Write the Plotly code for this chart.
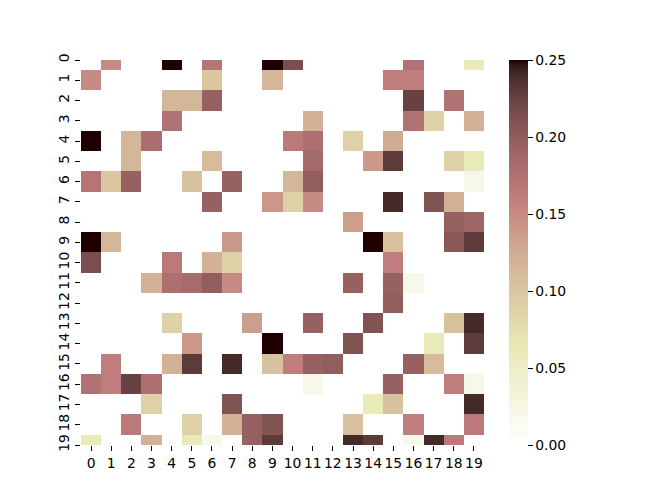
import numpy as np
import plotly.graph_objects as go

# heatmap values (20 x 20, zeros are blank cells)
row_labels = [str(i) for i in range(20)]
col_labels = [str(i) for i in range(20)]
cbar_ticks = [0, 0.05, 0.10, 0.15, 0.20, 0.25]

values = [
    [0, .15, 0, 0, .25, 0, .17, 0, 0, .25, .215, 0, 0, 0, 0, 0, .175, 0, 0, .06],
    [.15, 0, 0, 0, 0, 0, .10, 0, 0, .115, 0, 0, 0, 0, 0, .16, .16, 0, 0, 0],
    [0, 0, 0, 0, .115, .115, .195, 0, 0, 0, 0, 0, 0, 0, 0, 0, .225, 0, .175, 0],
    [0, 0, 0, 0, .175, 0, 0, 0, 0, 0, 0, .12, 0, 0, 0, 0, .175, .09, 0, .12],
    [.25, 0, .115, .18, 0, 0, 0, 0, 0, 0, .165, .178, 0, .09, 0, .125, 0, 0, 0, 0],
    [0, 0, .115, 0, 0, 0, .11, 0, 0, 0, 0, .185, 0, 0, .14, .23, 0, 0, .09, .06],
    [.17, .10, .195, 0, 0, .105, 0, .195, 0, 0, .115, .20, 0, 0, 0, 0, 0, 0, 0, .02],
    [0, 0, 0, 0, 0, 0, .195, 0, 0, .14, .09, .15, 0, 0, 0, .24, 0, .21, .12, 0],
    [0, 0, 0, 0, 0, 0, 0, 0, 0, 0, 0, 0, 0, .135, 0, 0, 0, 0, .195, .19],
    [.25, .115, 0, 0, 0, 0, 0, .14, 0, 0, 0, 0, 0, 0, .25, .105, 0, 0, .205, .23],
    [.215, 0, 0, 0, .165, 0, .12, .09, 0, 0, 0, 0, 0, 0, 0, .16, 0, 0, 0, 0],
    [0, 0, 0, .12, .178, .183, .20, .15, 0, 0, 0, 0, 0, .195, 0, .195, .02, 0, 0, 0],
    [0, 0, 0, 0, 0, 0, 0, 0, 0, 0, 0, 0, 0, 0, 0, .20, 0, 0, 0, 0],
    [0, 0, 0, 0, .09, 0, 0, 0, .135, 0, 0, .195, 0, 0, .21, 0, 0, 0, .105, .24],
    [0, 0, 0, 0, 0, .14, 0, 0, 0, .25, 0, 0, 0, .21, 0, 0, 0, .06, 0, .23],
    [0, .16, 0, 0, .12, .23, 0, .24, 0, .105, .16, .195, .20, 0, 0, 0, .195, .11, 0, 0],
    [.175, .16, .225, .178, 0, 0, 0, 0, 0, 0, 0, .02, 0, 0, 0, .195, 0, 0, .16, .02],
    [0, 0, 0, .09, 0, 0, 0, .21, 0, 0, 0, 0, 0, 0, .06, .105, 0, 0, 0, .24],
    [0, 0, .165, 0, 0, .09, 0, .12, .195, .21, 0, 0, 0, .105, 0, 0, .16, 0, 0, .165],
    [.06, 0, 0, .12, 0, .06, .02, 0, .195, .23, 0, 0, 0, .24, .23, 0, .02, .24, .165, 0],
]


def pink_r_scale(n=65):
    """matplotlib's pink_r: sqrt((2*gray + hot)/3), reversed"""
    out = []
    for t in np.linspace(0, 1, n):
        x = 1 - t
        hr = np.interp(x, [0, 0.365079, 1], [0.0416, 1, 1])
        hg = np.interp(x, [0, 0.365079, 0.746032, 1], [0, 0, 1, 1])
        hb = np.interp(x, [0, 0.746032, 1], [0, 0, 1])
        rgb = [np.sqrt((2 * x + h) / 3) for h in (hr, hg, hb)]
        out.append([float(t), "rgb({},{},{})".format(*[int(round(255 * c)) for c in rgb])])
    return out


font = dict(family="DejaVu Sans", size=13.9, color="black")

fig = go.Figure(go.Heatmap(
    z=values, x=list(range(20)), y=list(range(20)),
    zmin=0, zmax=0.25, colorscale=pink_r_scale(),
    colorbar=dict(
        x=(509 - 81) / 403, xanchor="left", y=0.5, yanchor="middle",
        len=1, lenmode="fraction", thickness=19, outlinewidth=0,
        xpad=0, ypad=0,
        ticks="outside", ticklen=5, tickwidth=1, tickcolor="black",
        tickvals=cbar_ticks, ticktext=["%.2f" % v for v in cbar_ticks],
        tickfont=font,
    ),
    hoverongaps=False,
))

fig.update_xaxes(
    range=[-0.5, 19.5], tickvals=list(range(20)), ticktext=col_labels,
    ticks="outside", ticklen=5, tickwidth=1, tickcolor="black", automargin=False,
    showgrid=False, zeroline=False, showline=False, tickangle=0, tickfont=font,
)
fig.update_yaxes(
    range=[19, 0], tickvals=list(range(20)), ticktext=row_labels,
    ticks="outside", ticklen=5, tickwidth=1, tickcolor="black", automargin=False,
    showgrid=False, zeroline=False, showline=False, tickangle=-90, tickfont=font,
)

fig.update_layout(
    width=650, height=500,
    margin=dict(l=81, r=166, t=60, b=55, autoexpand=False),
    plot_bgcolor="white", paper_bgcolor="white",
    font=font,
)

# page body has an 8px default margin; drop it so the figure sits at 0,0
fig.write_html("out.html", config={"displayModeBar": False},
               post_script="document.body.style.margin='0';")
